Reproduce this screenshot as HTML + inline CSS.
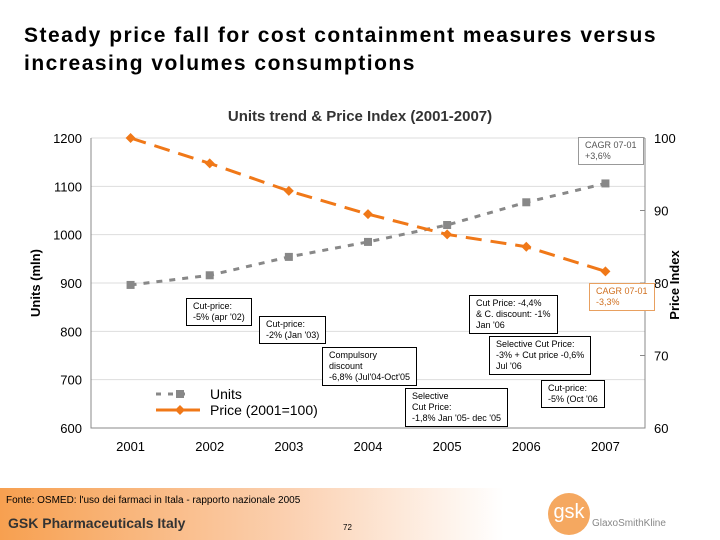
<!DOCTYPE html>
<html><head><meta charset="utf-8"><style>
body{margin:0;width:720px;height:540px;background:#fff;position:relative;overflow:hidden;font-family:"Liberation Sans",sans-serif}
.t{position:absolute;left:24px;top:22px;font-size:21px;line-height:28px;color:#000;font-weight:bold;letter-spacing:1.5px}
.foot{position:absolute;left:0;top:488px;width:720px;height:52px;background:linear-gradient(90deg,#f7a050 0%,#fbd0b0 40%,#fff 70%)}
.box{position:absolute;border:1px solid #000;background:#fff;font-size:9px;line-height:11px;padding:2px 6px;white-space:nowrap}
</style></head><body>
<div class="t">Steady price fall for cost containment measures versus<br>increasing volumes consumptions</div>
<svg id="c" width="720" height="490" style="position:absolute;left:0;top:0"></svg>
<div class="box" style="left:186px;top:298px">Cut-price:<br>-5% (apr '02)</div>
<div class="box" style="left:259px;top:316px">Cut-price:<br>-2% (Jan '03)</div>
<div class="box" style="left:322px;top:347px">Compulsory<br>discount<br>-6,8% (Jul'04-Oct'05</div>
<div class="box" style="left:405px;top:388px">Selective<br>Cut Price:<br>-1,8% Jan '05- dec '05</div>
<div class="box" style="left:469px;top:295px">Cut Price: -4,4%<br>&amp; C. discount: -1%<br>Jan '06</div>
<div class="box" style="left:489px;top:336px">Selective Cut Price:<br>-3% + Cut price -0,6%<br>Jul '06</div>
<div class="box" style="left:541px;top:380px">Cut-price:<br>-5% (Oct '06</div>
<div class="box" style="left:578px;top:137px;border-color:#999;color:#555">CAGR 07-01<br>+3,6%</div>
<div class="box" style="left:589px;top:283px;border-color:#e8a060;color:#d07020">CAGR 07-01<br>-3,3%</div>
<div class="foot">
<div style="position:absolute;left:6px;top:7px;font-size:10px">Fonte: OSMED: l'uso dei farmaci in Itala - rapporto nazionale 2005</div>
<div style="position:absolute;left:8px;top:27px;font-size:14px;font-weight:bold;color:#333">GSK Pharmaceuticals Italy</div>
<div style="position:absolute;left:343px;top:35px;font-size:8px">72</div>
<div style="position:absolute;left:548px;top:5px;width:42px;height:42px;border-radius:50%;background:#f5a860;color:#fff;font-size:20px;text-align:center;line-height:38px">gsk</div>
<div style="position:absolute;left:592px;top:30px;font-size:10px;color:#888">GlaxoSmithKline</div>
</div>
<script>
const years=["2001","2002","2003","2004","2005","2006","2007"];
const units=[896,916,954,985,1020,1067,1106];
const price=[100,96.5,92.7,89.5,86.7,85,81.6];
const leftTicks=[600,700,800,900,1000,1100,1200];
const rightTicks=[60,70,80,90,100];
const L=91,R=645,T=138,B=428;
const x=i=>L+(R-L)*(i+0.5)/years.length;
const yl=v=>B-(v-600)/600*(B-T);
const yr=v=>B-(v-60)/40*(B-T);
const s=document.getElementById('c'),ns='http://www.w3.org/2000/svg';
function el(t,a,txt){const e=document.createElementNS(ns,t);for(const k in a)e.setAttribute(k,a[k]);if(txt!=null)e.textContent=txt;s.appendChild(e);return e;}
let e=el('text',{x:360,y:121,'text-anchor':'middle','font-size':15,'font-weight':'bold',fill:'#333'},'Units trend & Price Index  (2001-2007)');

leftTicks.forEach(v=>{
 e=el('line',{x1:L,x2:R,y1:yl(v),y2:yl(v),stroke:'#ddd'});
 e=el('text',{x:L-9,y:yl(v)+5,'text-anchor':'end','font-size':13},v);
});
rightTicks.forEach(v=>{
 e=el('line',{x1:R,x2:R-5,y1:yr(v),y2:yr(v),stroke:'#888'});
 e=el('text',{x:R+9,y:yr(v)+5,'font-size':13},v);
});
e=el('path',{d:`M${L},${T}V${B}H${R}V${T}`,fill:'none',stroke:'#888'});
years.forEach((y,i)=>{e=el('text',{x:x(i),y:B+23,'text-anchor':'middle','font-size':13},y);});
e=el('text',{x:40,y:283,'text-anchor':'middle','font-size':13,'font-weight':'bold',transform:'rotate(-90 40 283)'},'Units (mln)');
e=el('text',{x:679,y:285,'text-anchor':'middle','font-size':13,'font-weight':'bold',transform:'rotate(-90 679 285)'},'Price Index');
e=el('polyline',{points:units.map((v,i)=>x(i)+','+yl(v)).join(' '),fill:'none',stroke:'#888','stroke-width':3,'stroke-dasharray':'6,7'});
units.forEach((v,i)=>{e=el('rect',{x:x(i)-4,y:yl(v)-4,width:8,height:8,fill:'#888'});});
e=el('polyline',{points:price.map((v,i)=>x(i)+','+yr(v)).join(' '),fill:'none',stroke:'#f07818','stroke-width':3,'stroke-dasharray':'16,9'});
price.forEach((v,i)=>{const cx=x(i),cy=yr(v);e=el('path',{d:`M${cx},${cy-5}L${cx+5},${cy}L${cx},${cy+5}L${cx-5},${cy}Z`,fill:'#f07818'});});
e=el('line',{x1:156,x2:190,y1:394,y2:394,stroke:'#888','stroke-width':3,'stroke-dasharray':'5,7'});
e=el('rect',{x:176,y:390,width:8,height:8,fill:'#888'});
e=el('text',{x:210,y:399,'font-size':14},'Units');
e=el('line',{x1:156,x2:200,y1:410,y2:410,stroke:'#f07818','stroke-width':3});
e=el('path',{d:'M180,405L185,410L180,415L175,410Z',fill:'#f07818'});
e=el('text',{x:210,y:415,'font-size':14},'Price (2001=100)');
</script>
</body></html>
